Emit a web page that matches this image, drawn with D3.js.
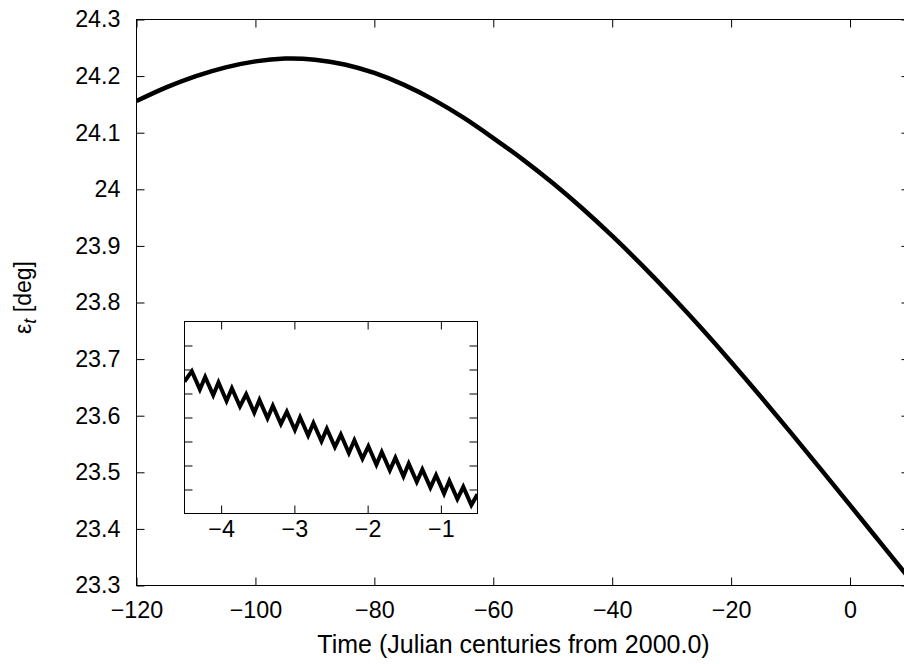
<!DOCTYPE html>
<html><head><meta charset="utf-8">
<script src="https://cdn.jsdelivr.net/npm/d3@7"></script>
<style>
body{margin:0;background:#fff}
text{font-family:"Liberation Sans",Arial,Helvetica,sans-serif;fill:#000}
</style>
</head><body><svg id="c" width="904" height="664"></svg>
<script>
// ---- data ----
const mainTime = [-120,-115,-110,-105,-100,-95,-90,-85,-80,-75,-70,-65,-60,-55,-50,-45,-40,-35,-30,-25,-20,-15,-10,-5,0,5,10];
const mainObliquity = [24.156,24.180,24.200,24.2155,24.226,24.231,24.229,24.2205,24.2055,24.1845,24.158,24.1265,24.0905,24.0525,24.011,23.966,23.9175,23.866,23.8115,23.7545,23.695,23.6335,23.5705,23.5065,23.442,23.377,23.312];

const insetTime = [-4.5,-4.400,-4.290,-4.218,-4.108,-4.036,-3.926,-3.853,-3.743,-3.658,-3.548,-3.477,-3.367,-3.294,-3.184,-3.103,-2.993,-2.922,-2.812,-2.740,-2.630,-2.557,-2.447,-2.366,-2.256,-2.181,-2.071,-1.990,-1.880,-1.807,-1.697,-1.621,-1.511,-1.439,-1.329,-1.253,-1.143,-1.066,-0.956,-0.885,-0.775,-0.694,-0.584,-0.5];
const insetObliquity = [23.4950,23.4993,23.4917,23.4969,23.4893,23.4946,23.4869,23.4922,23.4846,23.4897,23.4820,23.4873,23.4797,23.4849,23.4773,23.4824,23.4748,23.4801,23.4725,23.4777,23.4701,23.4753,23.4677,23.4729,23.4652,23.4705,23.4628,23.4680,23.4603,23.4656,23.4580,23.4632,23.4555,23.4608,23.4532,23.4584,23.4508,23.4560,23.4483,23.4536,23.4460,23.4511,23.4435,23.4480];

const xTicks = [-120,-100,-80,-60,-40,-20,0];
const xTickLabels = ["−120","−100","−80","−60","−40","−20","0"];
const yTicks = [23.3,23.4,23.5,23.6,23.7,23.8,23.9,24.0,24.1,24.2,24.3];
const yTickLabels = ["23.3","23.4","23.5","23.6","23.7","23.8","23.9","24","24.1","24.2","24.3"];
const insetXTicks = [-4,-3,-2,-1];
const insetXTickLabels = ["−4","−3","−2","−1"];
const insetYTicks = [23.45,23.46,23.47,23.48,23.49,23.50,23.51];

const xLabel = "Time (Julian centuries from 2000.0)";

// ---- layout ----
const svg = d3.select("#c");
const FS = 23.3;
const L = 136.5, R = 909.5, T = 19.5, B = 585.5;
const x = d3.scaleLinear().domain([-120, 10]).range([L, R]);
const y = d3.scaleLinear().domain([23.3, 24.3]).range([B, T]);

const defs = svg.append("defs");
defs.append("clipPath").attr("id","clipMain")
  .append("rect").attr("x",L).attr("y",T).attr("width",R-L).attr("height",B-T);

function styleAxis(g){
  g.select(".domain").remove();
  g.selectAll(".tick line").attr("stroke","#000").attr("stroke-width",1);
  g.selectAll(".tick text").attr("font-size",FS).attr("font-family","Liberation Sans, Arial, sans-serif").attr("fill","#000");
}

// bottom axis
svg.append("g").attr("transform",`translate(0,${B})`)
  .call(d3.axisBottom(x).tickValues(xTicks).tickSize(-8).tickPadding(16)
    .tickFormat((d,i)=>xTickLabels[i]))
  .call(styleAxis);
// top axis
svg.append("g").attr("transform",`translate(0,${T})`)
  .call(d3.axisTop(x).tickValues(xTicks).tickSize(-8).tickFormat(""))
  .call(styleAxis);
// left axis
svg.append("g").attr("transform",`translate(${L},0)`)
  .call(d3.axisLeft(y).tickValues(yTicks).tickSize(-8).tickPadding(16)
    .tickFormat((d,i)=>yTickLabels[i]))
  .call(styleAxis);
// right axis
svg.append("g").attr("transform",`translate(${R},0)`)
  .call(d3.axisRight(y).tickValues(yTicks).tickSize(-8).tickFormat(""))
  .call(styleAxis);

// frame
svg.append("rect").attr("x",L).attr("y",T).attr("width",R-L).attr("height",B-T)
  .attr("fill","none").attr("stroke","#000").attr("stroke-width",1);

// main curve
const mainData = mainTime.map((t,i)=>[t, mainObliquity[i]]);
svg.append("path").datum(mainData)
  .attr("clip-path","url(#clipMain)")
  .attr("fill","none").attr("stroke","#000").attr("stroke-width",4.5)
  .attr("stroke-linejoin","round")
  .attr("d", d3.line().x(d=>x(d[0])).y(d=>y(d[1])).curve(d3.curveNatural));

// axis titles
svg.append("text").attr("x",513.5).attr("y",653).attr("text-anchor","middle")
  .attr("font-size",25).text(xLabel);

const yl = svg.append("text").attr("transform","translate(31,297.5) rotate(-90)")
  .attr("text-anchor","middle").attr("font-size",23);
yl.append("tspan").text("ε");
yl.append("tspan").attr("font-style","italic").attr("font-size",18).attr("dy",5).text("t");
yl.append("tspan").attr("dy",-5).text(" [deg]");

// ---- inset ----
const iL = 184.5, iR = 477.5, iT = 321.5, iB = 513.5;
const ix = d3.scaleLinear().domain([-4.5,-0.5]).range([iL,iR]);
const iy = d3.scaleLinear().domain([23.44,23.52]).range([iB,iT]);

svg.append("rect").attr("x",iL).attr("y",iT).attr("width",iR-iL).attr("height",iB-iT)
  .attr("fill","#fff").attr("stroke","none");
defs.append("clipPath").attr("id","clipInset")
  .append("rect").attr("x",iL).attr("y",iT).attr("width",iR-iL).attr("height",iB-iT);

svg.append("g").attr("transform",`translate(0,${iB})`)
  .call(d3.axisBottom(ix).tickValues(insetXTicks).tickSize(-8).tickPadding(7)
    .tickFormat((d,i)=>insetXTickLabels[i]))
  .call(styleAxis);
svg.append("g").attr("transform",`translate(0,${iT})`)
  .call(d3.axisTop(ix).tickValues(insetXTicks).tickSize(-8).tickFormat(""))
  .call(styleAxis);
svg.append("g").attr("transform",`translate(${iL},0)`)
  .call(d3.axisLeft(iy).tickValues(insetYTicks).tickSize(-8).tickFormat(""))
  .call(styleAxis);
svg.append("g").attr("transform",`translate(${iR},0)`)
  .call(d3.axisRight(iy).tickValues(insetYTicks).tickSize(-8).tickFormat(""))
  .call(styleAxis);

const insetData = insetTime.map((t,i)=>[t, insetObliquity[i]]);
svg.append("path").datum(insetData)
  .attr("clip-path","url(#clipInset)")
  .attr("fill","none").attr("stroke","#000").attr("stroke-width",4)
  .attr("stroke-linejoin","miter").attr("stroke-miterlimit",3)
  .attr("d", d3.line().x(d=>ix(d[0])).y(d=>iy(d[1])));

svg.append("rect").attr("x",iL).attr("y",iT).attr("width",iR-iL).attr("height",iB-iT)
  .attr("fill","none").attr("stroke","#000").attr("stroke-width",1);
</script>
</body></html>
